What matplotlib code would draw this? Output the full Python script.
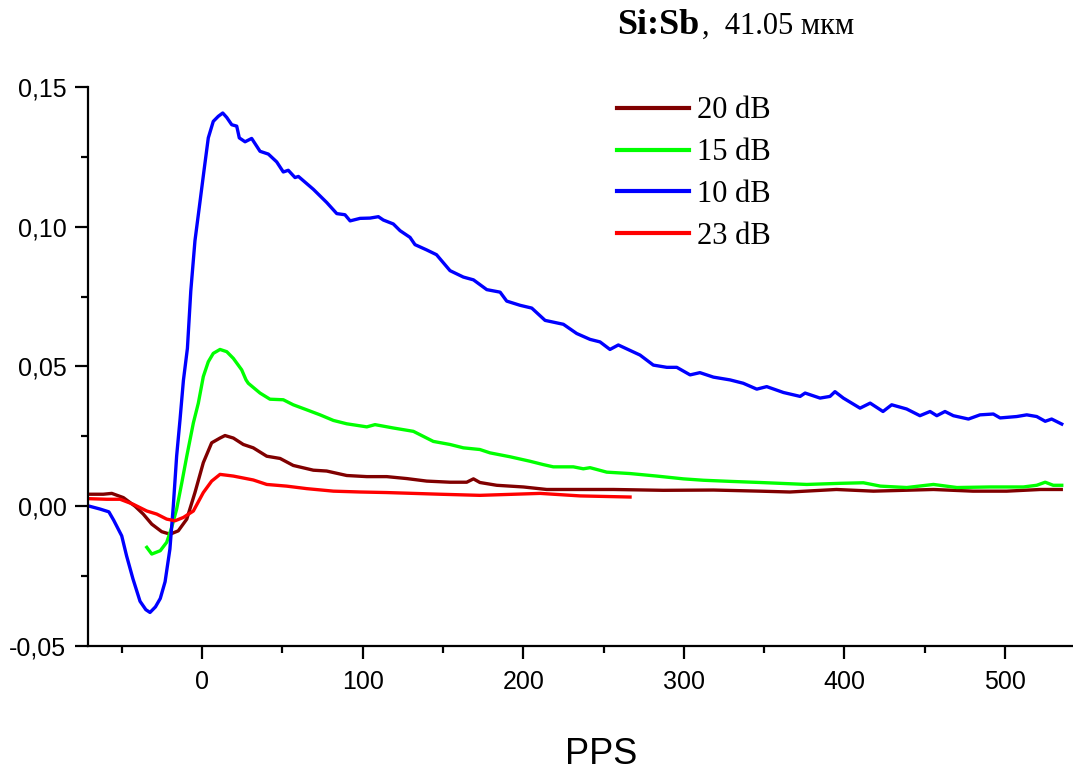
import matplotlib
matplotlib.use("Agg")
import matplotlib.pyplot as plt
from matplotlib.ticker import MultipleLocator, FuncFormatter

# 20 dB
x20 = [-70, -61.5, -56.2, -49, -41.7, -36.6, -31.3, -25.1, -19.9, -14.8, -9.5, -4.4,
       0.8, 6.0, 11.2, 14.3, 19.5, 25.7, 31.9, 40.3, 48.6, 56.8, 69.3, 77.6, 90.1,
       102.6, 115, 127.5, 139.9, 154.4, 164.8, 169, 173, 183.5, 200.1, 214.6, 235.4,
       256.1, 287.2, 318.4, 347.4, 366, 395, 418, 455.4, 480, 501, 522, 535]
y20 = [0.0043, 0.0043, 0.0046, 0.0031, 0.000, -0.0028, -0.0064, -0.0091, -0.010,
       -0.0088, -0.0046, 0.0049, 0.0156, 0.0227, 0.0244, 0.0253, 0.0244, 0.0221,
       0.0209, 0.0179, 0.0171, 0.0146, 0.0129, 0.0126, 0.011, 0.0106, 0.0106, 0.0099,
       0.009, 0.0086, 0.0086, 0.0098, 0.0085, 0.0075, 0.0069, 0.006, 0.006, 0.006,
       0.0057, 0.0058, 0.0054, 0.0051, 0.006, 0.0054, 0.006, 0.0054, 0.0054, 0.006, 0.006]

# 15 dB
x15 = [-34.4, -31.3, -26, -22, -18.9, -15.8, -12.6, -9.5, -5.4, -2.3, 0.8, 3.9, 7.0,
       11.2, 15.4, 19.5, 24.7, 27.4, 28.8, 36.1, 42.3, 50.6, 56.8, 65.2, 73.5, 81.8,
       90.1, 102.6, 107.7, 119.1, 131.6, 137.8, 144, 154.4, 162.7, 173, 179.3, 191.8,
       204.2, 212.5, 218.7, 231.2, 237.4, 241.6, 252, 266.5, 283.1, 299.7, 312.2,
       328.8, 347.4, 376.5, 397.3, 411.8, 422.4, 438.8, 455.4, 470, 490.7, 511.4,
       519.7, 525, 530, 535.3]
y15 = [-0.0147, -0.0171, -0.0159, -0.0129, -0.0076, -0.001, 0.0084, 0.0179, 0.0298,
       0.0369, 0.0464, 0.0517, 0.0547, 0.0561, 0.0553, 0.0529, 0.0488, 0.0452, 0.044,
       0.0405, 0.0383, 0.0381, 0.0363, 0.0345, 0.0327, 0.0307, 0.0295, 0.0284, 0.0292,
       0.028, 0.0268, 0.025, 0.0232, 0.0221, 0.0209, 0.0203, 0.0191, 0.0177, 0.0161,
       0.0149, 0.0141, 0.0141, 0.0134, 0.0138, 0.0122, 0.0117, 0.0108, 0.0098, 0.0093,
       0.0089, 0.0085, 0.0078, 0.0082, 0.0084, 0.0072, 0.0067, 0.0078, 0.0067, 0.0069,
       0.0069, 0.0075, 0.0086, 0.0075, 0.0075]

# 10 dB
x10 = [-70, -63.5, -58, -55, -50, -47, -43, -38.6, -35, -32.4, -29, -26, -23, -20,
       -17.9, -15.8, -13.7, -11.6, -9.1, -7.0, -4.4, -1.7, 1.2, 3.9, 7.0, 10.1, 12.9,
       15.4, 18.5, 21.6, 23.2, 26.8, 30.9, 36.1, 41.3, 46.5, 50.6, 53.7, 57.9, 60.0,
       69.3, 77.6, 83.9, 89.0, 92.2, 98.4, 104.6, 109.8, 112.9, 119.1, 123.3, 129.5,
       132.6, 139.9, 146, 154.4, 162.7, 169, 177.3, 185.6, 189.7, 198, 205.3, 213.6,
       225, 233.3, 241.6, 247.8, 254, 259.2, 272.7, 281, 289.4, 295.6, 303.9, 310,
       318.4, 328.8, 337, 345.4, 351.6, 362, 372.4, 375.5, 384.8, 391, 394.1, 399.3,
       409.7, 416, 424, 429.4, 438.7, 447, 453.3, 457.5, 462.6, 467.8, 477.2, 484.4,
       492.7, 496.9, 507.3, 513.5, 519.7, 525, 529, 535.3]
y10 = [0.000, -0.001, -0.002, -0.005, -0.0106, -0.0177, -0.026, -0.034, -0.037, -0.038,
       -0.036, -0.033, -0.027, -0.0153, 0.000, 0.018, 0.031, 0.045, 0.0565, 0.077,
       0.095, 0.107, 0.120, 0.1318, 0.1377, 0.1395, 0.1407, 0.1391, 0.1365, 0.136,
       0.1318, 0.1304, 0.1316, 0.127, 0.126, 0.1232, 0.1196, 0.1202, 0.1176, 0.118,
       0.1134, 0.1087, 0.1047, 0.1043, 0.1021, 0.103, 0.1031, 0.1036, 0.1024, 0.101,
       0.0986, 0.0962, 0.0936, 0.0917, 0.090, 0.0843, 0.082, 0.081, 0.0775, 0.0766,
       0.0734, 0.0719, 0.0709, 0.0665, 0.0651, 0.0618, 0.0597, 0.0588, 0.0561, 0.0577,
       0.0541, 0.0505, 0.0497, 0.0497, 0.047, 0.0478, 0.0462, 0.0452, 0.044, 0.0419,
       0.0428, 0.0407, 0.0393, 0.0405, 0.0387, 0.0393, 0.041, 0.0387, 0.0351, 0.0369,
       0.0339, 0.0363, 0.0348, 0.0324, 0.0339, 0.0324, 0.0339, 0.0324, 0.0312, 0.0327,
       0.033, 0.0316, 0.0321, 0.0327, 0.0321, 0.0304, 0.0312, 0.0294]

# 23 dB
x23 = [-70, -59.3, -51, -42.8, -34.4, -28.2, -22, -16.8, -11.6, -5.4, 0.8, 6.0, 11.2,
       19.5, 31.9, 40.3, 52.7, 65.2, 81.8, 98.4, 115, 131.6, 148.2, 173, 210.5, 235.4,
       266.5]
y23 = [0.0027, 0.0025, 0.0025, 0.0007, -0.0017, -0.0028, -0.0046, -0.0052, -0.004,
       -0.0017, 0.0049, 0.009, 0.0114, 0.0108, 0.0094, 0.0078, 0.0072, 0.0063, 0.0054,
       0.0051, 0.0049, 0.0046, 0.0043, 0.0039, 0.0046, 0.0037, 0.0033]

W, H = 1073, 775
fig = plt.figure(figsize=(W / 100, H / 100), dpi=100)
ax = fig.add_axes([88 / W, (H - 646) / H, (W - 88) / W, (646 - 87) / H])

lw = 2.4
ax.plot(x20, y20, color="#800000", lw=lw, label="20 dB")
ax.plot(x15, y15, color="#00ff00", lw=lw, label="15 dB")
ax.plot(x10, y10, color="#0000ff", lw=lw, label="10 dB")
ax.plot(x23, y23, color="#ff0000", lw=lw, label="23 dB")

ax.set_xlim(-71, 542.3)
ax.set_ylim(-0.05, 0.15)

for s in ["top", "right"]:
    ax.spines[s].set_visible(False)
for s in ["left", "bottom"]:
    ax.spines[s].set_linewidth(1.6)

ax.xaxis.set_major_locator(MultipleLocator(100))
ax.xaxis.set_minor_locator(MultipleLocator(50))
ax.yaxis.set_major_locator(MultipleLocator(0.05))
ax.yaxis.set_minor_locator(MultipleLocator(0.025))
ax.yaxis.set_major_formatter(FuncFormatter(lambda v, p: f"{round(v, 2) + 0.0:.2f}".replace(".", ",")))

ax.tick_params(which="major", direction="out", length=9.5, width=1.6, labelsize=18,
               labelfontfamily="Liberation Sans")
ax.tick_params(which="minor", direction="out", length=5, width=1.6)
ax.tick_params(axis="x", which="major", pad=8)
ax.tick_params(axis="y", which="major", pad=6)

ax.set_xlabel("PPS", fontsize=26, family="Liberation Sans", va="center")
ax.xaxis.set_label_coords((601 - 88) / (W - 88), (646 - 754) / (646 - 87))

leg = ax.legend(loc="upper left", bbox_to_anchor=((605 - 88) / (W - 88), 1.005),
                frameon=False, handlelength=2.35, handletextpad=0.25,
                labelspacing=0.42, borderaxespad=0,
                prop={"family": "Liberation Serif", "size": 22})
for line in leg.get_lines():
    line.set_linewidth(3)

fig.text(617 / W, 1 - 34 / H, "Si:Sb", fontsize=26, fontweight="bold",
         family="Liberation Serif", ha="left", va="baseline")
fig.text(702 / W, 1 - 34 / H, ",  41.05 мкм", fontsize=22,
         family="Liberation Serif", ha="left", va="baseline")

fig.savefig("out.png", dpi=100)
